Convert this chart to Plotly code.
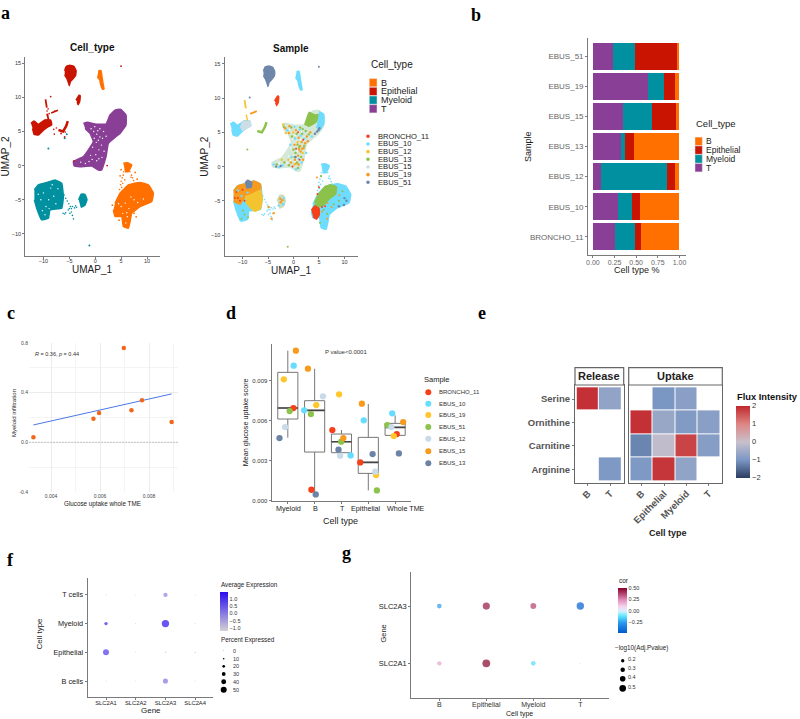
import plotly.graph_objects as go

W, H = 800, 719
FONT = "Liberation Sans"

# --- colours ---------------------------------------------------
CELL_COLORS = {"B": "#FF7000", "Epithelial": "#C81400", "Myeloid": "#00909F", "T": "#8A3F96"}
SAMPLE_COLORS = {"BRONCHO_11": "#F5401A", "EBUS_10": "#6EDCFF", "EBUS_12": "#F4C430", "EBUS_13": "#8CC24A",
                 "EBUS_15": "#CDDDE6", "EBUS_19": "#F79A1E", "EBUS_51": "#6F86AB"}

# --- a: UMAP cluster outlines ------------------------------------
t_main = [(-2.29, 6.18), (-1.52, 6.33), (-0.04, 6.08), (2.08, 6.08), (2.85, 7.4), (3.82, 8.13), (4.91, 8.23),
          (5.94, 7.4), (5.94, 5.94), (4.91, 4.82), (3.82, 4.13), (2.53, 3.26), (2.08, 1.31), (1.25, -0.64),
          (0.6, -0.64), (-0.68, -0.06), (-2.94, -0.16), (-4.09, -0.01), (-4.22, 0.57), (-2.29, 1.31),
          (-1.33, 2.28), (-0.36, 3.5), (-1.0, 4.72), (-1.97, 5.45)]
myeloid_main = [(-11.75, -3.57), (-10.98, -2.84), (-9.37, -2.49), (-7.76, -2.1), (-6.48, -2.59), (-6.15, -4.54),
                (-6.48, -6.25), (-8.73, -6.49), (-9.05, -7.71), (-10.34, -7.95), (-11.3, -6.25), (-11.75, -5.03)]
myeloid_small = [(-3.2, -5.0), (-2.7, -4.2), (-2.0, -4.2), (-1.6, -5.0), (-2.0, -5.8), (-2.8, -6.1)]
b_main = [(3.82, -5.52), (4.79, -4.05), (6.39, -2.84), (8.65, -2.49), (10.26, -2.84), (11.22, -4.05), (10.9, -5.27),
          (8.65, -6.0), (7.04, -6.98), (6.72, -8.2), (6.39, -9.17), (5.43, -8.93), (5.11, -7.46), (3.82, -7.46),
          (3.5, -6.49)]
b_top = [(5.43, 0.33), (6.2, 0.4), (7.04, 0.09), (6.39, -0.89), (5.75, -0.89)]
b_small = [(0.6, 13.9), (1.1, 13.9), (1.3, 13.0), (1.5, 12.0), (1.7, 11.2), (1.4, 11.2), (1.0, 12.0), (0.9, 12.5),
           (0.4, 13.0)]
epi_top = [(-5.9, 13.9), (-5.6, 14.5), (-4.9, 14.7), (-4.1, 14.5), (-3.7, 13.9), (-3.8, 13.2), (-4.3, 12.7),
           (-4.8, 12.3), (-5.0, 11.7), (-5.2, 12.2), (-5.5, 12.8), (-5.9, 13.3)]
epi_small = [(-3.7, 9.6), (-3.1, 10.3), (-2.9, 10.2), (-3.0, 9.4), (-3.3, 8.9), (-3.5, 9.3)]
epi_left = [(-12.4, 6.18), (-11.8, 6.52), (-11.0, 6.03), (-9.7, 6.67), (-8.6, 6.67), (-8.4, 5.94), (-9.05, 5.7),
            (-10.0, 5.2), (-11.0, 4.47), (-11.8, 4.57), (-12.1, 5.45)]

# thin strands
epi_strand1 = [(-9.6, 9.7), (-9.5, 9.0), (-9.35, 8.5)]
epi_strand2 = [(-8.5, 7.7), (-7.2, 8.1)]
epi_strand3 = [(-9.3, 7.6), (-9.0, 6.7)]
epi_crescent = [(-7.1, 5.2), (-6.2, 5.0), (-5.6, 5.8), (-5.3, 6.5)]
epi_trail = [(-9.2, 7.4), (-8.9, 7.6), (-9.3, 8.0), (-7.9, 4.6), (-8.0, 5.3), (-7.5, 5.5), (-9.1, 8.3), (-5.8, 4.9), (-7.8, 8.0)]
mye_trail = [(-6.0, -4.3), (-5.7, -4.8), (-5.4, -5.2), (-5.1, -5.6), (-4.8, -6.0), (-4.6, -6.3), (-5.2, -6.5), (-5.7, -6.9),
             (-6.2, -7.0), (-4.4, -6.0), (-4.0, -6.2), (-3.6, -6.1), (-4.6, -6.8), (-4.4, -7.3), (-4.2, -7.8), (-5.0, -6.3),
             (-4.9, -7.0), (-5.9, -7.1), (-3.8, -5.9)]
b_trail = [(5.5, -0.9), (5.4, -1.4), (5.2, -1.8), (5.0, -2.3), (4.9, -2.8), (5.3, -2.6), (5.7, -2.1), (5.1, -3.2), (6.7, -0.9),
           (7.0, -1.4), (7.2, -1.8), (7.4, -2.2), (7.6, -2.6), (6.9, -1.7), (5.8, -0.6), (6.4, -0.2), (4.7, -3.5)]

# loose cells
teal_dots = [(-9.05, 2.5), (-1.13, -11.7), (-5.5, 4.6), (-5.9, 4.0)]
red_dots = [(4.98, 14.56), (-8.6, 10.1), (-4.1, 0.7), (-6.6, 4.7), (-5.9, 4.2), (2.3, -0.0)]
orange_dots = [(5.0, -0.6), (4.8, -1.5), (7.7, -1.0), (8.1, -2.0), (4.6, -8.0), (7.5, -7.0), (7.9, -7.5), (3.3, -5.8)]

# white gaps inside the clusters
t_gaps = [(-0.8, 5.4), (-0.3, 5.0), (0.3, 4.6), (0.9, 4.2), (0.2, 3.4), (1.2, 3.0), (0.7, 2.3), (0.1, 1.6), (-0.9, 1.5),
          (1.3, 1.2), (0.3, 0.7), (-1.2, 0.6), (-1.9, 0.3), (0.9, 5.4), (1.6, 5.0), (2.1, 4.3), (-1.4, 4.6), (-0.5, 2.7),
          (-0.1, 5.7), (1.4, 4.0), (0.5, 5.1), (-0.2, 4.0), (0.6, 3.7), (1.7, 2.1), (-0.6, 0.9), (-2.8, 0.5), (0.7, 1.0)]
mye_gaps = [(-10.0, -4.0), (-9.0, -5.0), (-8.6, -3.3), (-8.0, -4.5), (-9.5, -6.0), (-10.5, -5.0), (-8.3, -2.8),
            (-7.2, -3.4), (-10.2, -6.6), (-9.7, -7.2), (-7.6, -5.6), (-11.0, -4.2), (-8.9, -6.3)]
b_gaps = [(5.0, -6.0), (5.8, -5.5), (6.5, -6.3), (5.3, -7.0), (6.2, -7.5), (7.5, -5.0), (4.5, -5.6), (6.9, -4.6),
          (8.2, -5.4), (5.9, -8.4), (9.3, -4.9), (6.1, -6.9)]

# --- a right: sample mix inside the same clusters --------------
t_green_wedge = [(2.22, 6.06), (3.07, 7.92), (4.18, 7.53), (5.03, 7.62), (4.5, 6.55), (2.87, 5.82)]
t_cyan_edge = [(5.03, 8.0), (5.94, 7.62), (5.94, 6.3), (5.1, 5.33), (4.5, 5.82)]
mye_orange = [(-11.75, -3.57), (-10.98, -2.84), (-9.37, -2.49), (-7.76, -2.1), (-6.48, -2.59), (-6.48, -3.4), (-9.5, -4.4),
              (-10.5, -5.5), (-11.75, -5.03)]
mye_yellow = [(-9.55, -4.43), (-7.91, -3.94), (-6.48, -3.45), (-6.15, -4.67), (-6.48, -6.14), (-7.59, -6.53),
              (-8.57, -5.89), (-9.35, -5.16)]
mye_slate = [(-9.5, -2.4), (-9.0, -2.0), (-8.2, -2.3), (-8.3, -3.0), (-9.3, -3.1)]
b_green = [(4.18, -5.16), (4.83, -4.19), (6.14, -2.97), (7.45, -2.62), (8.43, -2.97), (8.3, -3.94), (7.12, -4.67),
           (5.81, -5.65), (4.83, -5.89), (4.18, -5.65)]
b_red = [(3.52, -6.38), (4.18, -5.75), (5.03, -6.14), (5.03, -7.11), (4.5, -7.7), (3.85, -7.36)]
epi_left_pale = [(-10.2, 6.55), (-8.6, 6.67), (-8.4, 5.94), (-9.05, 5.7), (-10.0, 5.3), (-10.4, 5.9)]

s_t_orange = [(0.5, 5.3), (1.0, 4.2), (1.6, 3.6), (2.6, 4.4), (2.0, 2.7), (1.4, 2.2), (0.9, 1.6), (0.3, 1.0), (-0.9, 4.9),
              (-1.6, 5.6), (0.2, 3.2), (1.9, 1.0), (1.0, 0.3), (-0.5, 0.6), (3.3, 5.0), (1.3, 3.0), (2.3, 3.4), (1.7, 2.6),
              (2.8, 3.7), (1.1, 2.5), (-0.8, 5.9), (0.4, 0.4)]
s_t_green = [(-1.9, 5.8), (-0.4, 5.7), (0.6, 4.8), (1.7, 4.8), (0.0, 2.5), (0.4, 2.0), (1.5, 1.4), (0.7, 0.6), (-1.8, 0.6),
             (-3.3, 0.3), (2.4, 5.2), (-0.3, 4.4), (1.1, 2.8), (3.0, 4.7), (0.9, -0.2), (1.3, 5.7), (0.2, 1.4), (-0.9, 0.2),
             (2.1, 3.0), (1.8, 5.5), (0.8, 3.2)]
s_t_cyan = [(-1.2, 5.3), (0.2, 5.8), (1.2, 5.4), (2.1, 4.1), (-0.6, 3.2), (1.6, 0.6), (0.5, -0.4), (-2.8, -0.1), (-3.9, 0.3),
            (-0.4, 1.4), (2.5, 2.0), (1.4, 4.5), (3.6, 4.4), (-2.1, 0.2), (0.3, 4.1), (1.0, 1.1)]
s_t_yellow = [(-2.0, 6.1), (-1.5, 4.9), (-0.1, 5.0), (1.8, 2.0), (0.8, 3.6), (-1.0, 1.0), (0.2, 0.3), (-2.3, 1.0)]
s_t_red = [(1.9, 3.9), (0.9, 5.0), (0.5, 2.6), (1.2, 1.0), (-0.2, -0.0)]
s_t_slate = [(4.6, 5.1), (5.1, 5.6), (4.2, 4.8), (-3.4, -0.0), (-2.5, 0.1), (4.9, 5.3), (0.4, 1.4)]
s_mye_red = [(-11.2, -3.7), (-10.9, -4.6), (-10.0, -3.4), (-10.5, -5.0), (-11.5, -4.6), (-9.6, -5.0)]
s_mye_cyan = [(-10.9, -3.5), (-9.0, -3.8), (-10.2, -4.3), (-2.0, -5.5), (-2.9, -5.7), (-1.9, -4.6)]
s_mye_orange = [(-2.6, -4.7), (-2.2, -4.9), (-3.9, -6.8), (-4.3, -7.6), (-4.9, -5.9), (-2.5, -5.2)]
s_mye_green = [(-9.6, -7.0), (-9.9, -6.4), (-8.9, -7.4), (-10.2, -7.6)]
s_b_orange = [(9.0, -4.2), (7.5, -5.9), (6.7, -5.3), (5.6, -6.6), (6.6, -7.6), (4.6, -1.6)]
s_b_green = [(8.9, -5.0), (5.9, -6.3), (6.6, -6.9), (7.9, -5.5), (5.2, -8.2), (5.4, -1.4), (9.6, -3.6)]
s_b_red = [(5.0, -3.0), (4.7, -4.0), (5.6, -5.9), (6.2, -5.8)]
s_b_slate = [(10.4, -5.0), (9.9, -5.6), (10.0, -4.6), (8.9, -5.8)]

# --- b ---------------------------------------------------------
samples_b = ["BRONCHO_11", "EBUS_10", "EBUS_12", "EBUS_13", "EBUS_15", "EBUS_19", "EBUS_51"]
frac_t = [0.253, 0.294, 0.098, 0.325, 0.347, 0.638, 0.234]
frac_myeloid = [0.234, 0.163, 0.762, 0.045, 0.336, 0.188, 0.256]
frac_epithelial = [0.068, 0.083, 0.083, 0.105, 0.279, 0.125, 0.476]
frac_b = [0.445, 0.46, 0.057, 0.525, 0.038, 0.049, 0.034]

# --- c ---------------------------------------------------------
glucose_x = [0.00328, 0.00573, 0.00596, 0.00697, 0.00728, 0.00771, 0.00892]
myeloid_y = [0.04, 0.19, 0.237, 0.76, 0.259, 0.339, 0.164]
fit_x = [0.00328, 0.00892]
fit_y = [0.14, 0.39]

# --- d ---------------------------------------------------------
groups_d = ["Myeloid", "B", "T", "Epithelial", "Whole TME"]
box_low = [0.004725, 0.00055, 0.0034, 0.000775, 0.0049]
box_q1 = [0.006125, 0.00365, 0.0036, 0.00205, 0.0049]
box_med = [0.00695, 0.006775, 0.004425, 0.002875, 0.0055]
box_q3 = [0.009625, 0.0075, 0.005, 0.00475, 0.0058]
box_high = [0.01125, 0.0099, 0.0053, 0.00725, 0.0064]
samples_d = ["BRONCHO_11", "EBUS_10", "EBUS_19", "EBUS_51", "EBUS_12", "EBUS_15", "EBUS_13"]
colors_d = ["#F5401A", "#66DDFF", "#FFC72C", "#8CC34A", "#C9DAE8", "#F89A1E", "#6C82A6"]
jitter_d = [[0.21, -0.12, -0.34, -0.30, 0.06], [0.22, -0.39, 0.34, -0.17, -0.11], [-0.15, 0.06, -0.09, 0.29, -0.05],
            [0.07, -0.14, -0.01, 0.32, -0.29], [-0.10, 0.31, -0.05, 0.26, -0.14], [0.30, -0.25, 0.07, -0.24, 0.30],
            [-0.31, 0.04, -0.11, 0.16, 0.14]]
score_d = [[0.00695, 0.000825, 0.0053, 0.002875, 0.005], [0.010125, 0.006775, 0.0034, 0.006025, 0.00655],
           [0.0091, 0.007175, 0.007975, 0.001925, 0.00485], [0.006725, 0.0065, 0.004425, 0.000775, 0.005675],
           [0.005525, 0.007825, 0.003375, 0.002175, 0.005525], [0.01125, 0.0099, 0.0047, 0.007275, 0.0059],
           [0.0047, 0.000475, 0.003825, 0.0035, 0.00355]]

# --- e ---------------------------------------------------------
metabolites = ["Arginine", "Carnitine", "Ornithine", "Serine"]
release_cols = ["B", "T"]
release_z = [[None, -0.95], [None, None], [None, None], [1.9, -0.7]]
uptake_cols = ["B", "Epithelial", "Myeloid", "T"]
uptake_z = [[-0.95, 1.85, -0.7, None], [-1.2, -0.1, 1.7, -0.85], [1.9, -0.6, -0.9, -0.8], [None, -1.0, -0.8, None]]
flux_scale = [[0, "#2B3D60"], [0.25, "#7A97C4"], [0.5, "#C8C0CC"], [0.75, "#DE8583"], [1, "#C0282D"]]

# --- f ---------------------------------------------------------
genes_f = ["SLC2A1", "SLC2A2", "SLC2A3", "SLC2A4"]
cells_f = ["B cells", "Epithelial", "Myeloid", "T cells"]
pct_f = [[3, 2, 33, 2], [40, 2, 6, 4], [20, 2, 50, 2], [3, 2, 27, 2]]
exp_f = [[-1.1, -1.1, 0.1, -1.1], [0.9, -1.1, -1.0, -0.4], [1.2, -1.0, 1.5, -1.1], [-1.1, -1.1, -0.1, -1.1]]
pct_legend = [0, 10, 20, 30, 40, 50]

# --- g ---------------------------------------------------------
cells_g = ["B", "Epithelial", "Myeloid", "T"]
genes_g = ["SLC2A1", "SLC2A3"]
cor_g = [[0.2, 0.5, -0.13, 0.0], [-0.25, 0.46, 0.38, -0.45]]
logp_g = [[0.24, 0.55, 0.27, 0.01], [0.27, 0.5, 0.38, 0.52]]
logp_legend = [0.2, 0.3, 0.4, 0.5]
cor_scale = [[0, "#0058CC"], [0.227, "#2A9AEE"], [0.38, "#60E8FF"], [0.485, "#D8F0FF"], [0.588, "#F4D4EC"],
             [0.742, "#E08AB8"], [0.876, "#B0406C"], [1, "#880028"]]


fig = go.Figure()
annotations = []
shapes = []


def note(text, px, py, size=8, color="#1a1a1a", xanchor="left", angle=0, bold=False, family=FONT):
    if bold:
        text = "<b>" + text + "</b>"
    annotations.append(dict(text=text, x=px / W, y=1 - py / H, xref="paper", yref="paper", showarrow=False,
                            xanchor=xanchor, yanchor="middle", textangle=angle, borderpad=0,
                            font=dict(size=size, color=color, family=family)))


def swatch(px0, py0, px1, py1, color, kind="rect", edge=None):
    shapes.append(dict(type=kind, xref="paper", yref="paper", x0=px0 / W, x1=px1 / W, y0=1 - py0 / H, y1=1 - py1 / H,
                       fillcolor=color, line=dict(color=edge or color, width=0.5 if edge else 0)))


def axes(n, px0, px1, py0, py1, xr, yr, xopts=None, yopts=None):
    base = dict(showline=True, linecolor="#7a7a7a", linewidth=1.3, ticks="outside", ticklen=2, tickwidth=0.7,
                tickcolor="#7a7a7a", zeroline=False, showgrid=False, fixedrange=True)
    xa = dict(base, domain=[px0 / W, px1 / W], range=xr, anchor="y%d" % n, tickangle=0, ticklabelstandoff=-2,
              tickfont=dict(size=6, color="#333333"))
    ya = dict(base, domain=[1 - py1 / H, 1 - py0 / H], range=yr, anchor="x%d" % n, tickfont=dict(size=6, color="#333333"))
    xa.update(xopts or {})
    ya.update(yopts or {})
    fig.layout["xaxis%d" % n] = xa
    fig.layout["yaxis%d" % n] = ya


def blob(n, poly, color, width=1.5):
    fig.add_trace(go.Scatter(x=[p[0] for p in poly], y=[p[1] for p in poly], mode="lines", fill="toself",
                             fillcolor=color, line=dict(color=color, width=width, shape="spline", smoothing=0.3),
                             xaxis="x%d" % n, yaxis="y%d" % n, hoverinfo="skip", showlegend=False))


def strand(n, pts, color, width=1.5):
    fig.add_trace(go.Scatter(x=[p[0] for p in pts], y=[p[1] for p in pts], mode="lines",
                             line=dict(color=color, width=width), xaxis="x%d" % n, yaxis="y%d" % n,
                             hoverinfo="skip", showlegend=False))


def dots(n, pts, color, size=2.5):
    fig.add_trace(go.Scatter(x=[p[0] for p in pts], y=[p[1] for p in pts], mode="markers",
                             marker=dict(color=color, size=size, line=dict(width=0)), xaxis="x%d" % n,
                             yaxis="y%d" % n, hoverinfo="skip", showlegend=False))


# --- panel a, left --------------------------------------------
umap_ticks_x = dict(tickvals=[-10, -5, 0, 5, 10], tickfont=dict(size=5.5, color="#333333"))
umap_ticks_y = dict(tickvals=[-10, -5, 0, 5, 10, 15], tickfont=dict(size=5.5, color="#333333"))
axes(1, 25.3, 160, 57, 255.7, [-13.5, 12.5], [-13.2, 15.9], umap_ticks_x, umap_ticks_y)
axes(2, 224.7, 357.7, 57, 256.3, [-13.5, 12.6], [-13.1, 16.0], umap_ticks_x, umap_ticks_y)

for poly in [epi_top, epi_small, epi_left]:
    blob(1, poly, CELL_COLORS["Epithelial"])
for pts in [epi_strand1, epi_strand2, epi_strand3]:
    strand(1, pts, CELL_COLORS["Epithelial"], 1.8)
strand(1, epi_crescent, CELL_COLORS["Epithelial"], 2.5)
dots(1, epi_trail, CELL_COLORS["Epithelial"], 1.6)
blob(1, t_main, CELL_COLORS["T"])
for poly in [myeloid_main, myeloid_small]:
    blob(1, poly, CELL_COLORS["Myeloid"])
dots(1, mye_trail, CELL_COLORS["Myeloid"], 1.6)
for poly in [b_main, b_top, b_small]:
    blob(1, poly, CELL_COLORS["B"])
dots(1, b_trail, CELL_COLORS["B"], 1.6)
dots(1, t_gaps + mye_gaps + b_gaps, "#ffffff", 1.4)
dots(1, teal_dots, CELL_COLORS["Myeloid"], 2)
dots(1, red_dots, CELL_COLORS["Epithelial"], 1.8)
dots(1, orange_dots, CELL_COLORS["B"], 1.8)

# --- panel a, right -------------------------------------------
blob(2, epi_top, SAMPLE_COLORS["EBUS_51"])
blob(2, epi_small, SAMPLE_COLORS["BRONCHO_11"])
blob(2, epi_left, SAMPLE_COLORS["EBUS_10"])
blob(2, epi_left_pale, SAMPLE_COLORS["EBUS_15"])
strand(2, epi_strand1, SAMPLE_COLORS["EBUS_12"], 1.8)
strand(2, epi_strand3, SAMPLE_COLORS["EBUS_12"], 1.4)
strand(2, epi_strand2, SAMPLE_COLORS["EBUS_19"], 1.8)
strand(2, epi_crescent, SAMPLE_COLORS["EBUS_13"], 2.5)
blob(2, t_main, "#D4E8D8")
blob(2, t_green_wedge, SAMPLE_COLORS["EBUS_13"])
blob(2, t_cyan_edge, SAMPLE_COLORS["EBUS_10"])
blob(2, myeloid_main, SAMPLE_COLORS["EBUS_10"])
blob(2, mye_orange, SAMPLE_COLORS["EBUS_19"])
blob(2, mye_yellow, SAMPLE_COLORS["EBUS_12"])
blob(2, mye_slate, SAMPLE_COLORS["EBUS_51"])
blob(2, myeloid_small, "#C9DCC0")
dots(2, mye_trail, SAMPLE_COLORS["EBUS_10"], 1.6)
blob(2, b_main, SAMPLE_COLORS["EBUS_10"])
blob(2, b_green, SAMPLE_COLORS["EBUS_13"])
blob(2, b_red, SAMPLE_COLORS["BRONCHO_11"])
blob(2, b_top, SAMPLE_COLORS["EBUS_10"])
blob(2, b_small, SAMPLE_COLORS["EBUS_10"])
dots(2, b_trail, SAMPLE_COLORS["EBUS_10"], 1.6)
dots(2, t_gaps, "#ffffff", 1.6)
dots(2, s_t_orange, SAMPLE_COLORS["EBUS_19"], 2.4)
dots(2, s_t_green, SAMPLE_COLORS["EBUS_13"], 2.4)
dots(2, s_t_cyan, SAMPLE_COLORS["EBUS_10"], 2.4)
dots(2, s_t_yellow, SAMPLE_COLORS["EBUS_12"], 2.4)
dots(2, s_t_red, SAMPLE_COLORS["BRONCHO_11"], 2)
dots(2, s_t_slate, SAMPLE_COLORS["EBUS_51"], 2.4)
dots(2, s_mye_red, SAMPLE_COLORS["BRONCHO_11"], 2)
dots(2, s_mye_cyan, SAMPLE_COLORS["EBUS_10"], 2.4)
dots(2, s_mye_orange, SAMPLE_COLORS["EBUS_19"], 2.4)
dots(2, s_mye_green, SAMPLE_COLORS["EBUS_13"], 2)
dots(2, s_b_orange, SAMPLE_COLORS["EBUS_19"], 2)
dots(2, s_b_green, SAMPLE_COLORS["EBUS_13"], 2.2)
dots(2, s_b_red, SAMPLE_COLORS["BRONCHO_11"], 2)
dots(2, s_b_slate, SAMPLE_COLORS["EBUS_51"], 2.4)
dots(2, [(-9.05, 2.5), (-1.13, -11.7)], SAMPLE_COLORS["EBUS_13"], 2)
dots(2, [(4.98, 14.56), (-8.6, 10.1)], SAMPLE_COLORS["EBUS_51"], 2)

note("Cell_type", 92.7, 47.7, 10, "#111111", "center", bold=True)
note("Sample", 291, 48.7, 10, "#111111", "center", bold=True)
note("UMAP_1", 92.3, 269.3, 10, "#222222", "center")
note("UMAP_1", 291, 270, 10, "#222222", "center")
note("UMAP_2", 5.7, 156.7, 10, "#222222", "center", -90)
note("UMAP_2", 205, 156.7, 10, "#222222", "center", -90)

note("Cell_type", 370, 64.7, 10, "#222222")
for i, name in enumerate(CELL_COLORS):
    cy = 82.7 + 8.7 * i
    swatch(369.3, cy - 4.1, 377, cy + 4.1, CELL_COLORS[name], edge="#e4e4e4")
    note(name, 379.5, cy, 9, "#222222")
for i, name in enumerate(SAMPLE_COLORS):
    cy = 136.3 + 7.67 * i
    swatch(366.2, cy - 1.8, 369.8, cy + 1.8, SAMPLE_COLORS[name], "circle")
    note(name, 376.7, cy, 7.6, "#222222")

# --- panel b --------------------------------------------------
idx_b = list(range(len(samples_b)))
axes(3, 588.3, 685.7, 38, 255, [-0.053, 1.072], [-0.6, 6.6],
     dict(tickvals=[0, 0.25, 0.5, 0.75, 1], ticktext=["0.00", "0.25", "0.50", "0.75", "1.00"],
          tickfont=dict(size=7, color="#666666")),
     dict(tickvals=idx_b, ticktext=samples_b, tickfont=dict(size=8, color="#666666")))
for frac, name in [(frac_t, "T"), (frac_myeloid, "Myeloid"), (frac_epithelial, "Epithelial"), (frac_b, "B")]:
    fig.add_trace(go.Bar(x=frac, y=idx_b, orientation="h", width=0.9, marker=dict(color=CELL_COLORS[name], line=dict(width=0)),
                         xaxis="x3", yaxis="y3", showlegend=False))
note("Sample", 527.3, 146.7, 9, "#222222", "center", -90)
note("Cell type %", 637.3, 270, 9, "#222222", "center")
note("Cell_type", 695.3, 123, 9.5, "#222222")
for i, name in enumerate(CELL_COLORS):
    cy = 141.3 + 8.8 * i
    swatch(695, cy - 4.2, 702.3, cy + 4.2, CELL_COLORS[name], edge="#e4e4e4")
    note(name, 705.3, cy, 8.5, "#222222")

# --- panel c --------------------------------------------------
axes(4, 29, 178, 343, 492, [0.0031, 0.00918], [-0.4, 0.8],
     dict(showline=False, ticks="", tickvals=[0.004, 0.006, 0.008], ticktext=["0.004", "0.006", "0.008"], showgrid=True,
          gridcolor="#ececec", gridwidth=0.6, tickfont=dict(size=5, color="#444444"), ticklabelstandoff=0,
          minor=dict(tickvals=[0.003, 0.005, 0.007, 0.009], showgrid=True, gridcolor="#f4f4f4", gridwidth=0.5)),
     dict(showline=False, ticks="", tickvals=[-0.4, 0, 0.4, 0.8], ticktext=["-0.4", "0.0", "0.4", "0.8"], showgrid=True,
          gridcolor="#ececec", gridwidth=0.6, tickfont=dict(size=5, color="#444444"),
          minor=dict(tickvals=[-0.2, 0.2, 0.6], showgrid=True, gridcolor="#f4f4f4", gridwidth=0.5)))
fig.add_trace(go.Scatter(x=[0.0031, 0.00918], y=[0, 0], mode="lines", line=dict(color="#cccccc", width=1.3, dash="2px,1px"),
                         xaxis="x4", yaxis="y4", showlegend=False))
fig.add_trace(go.Scatter(x=fit_x, y=fit_y, mode="lines", line=dict(color="#4A78E6", width=1), xaxis="x4", yaxis="y4",
                         showlegend=False))
fig.add_trace(go.Scatter(x=glucose_x, y=myeloid_y, mode="markers", marker=dict(color="#F2661A", size=4.5), xaxis="x4",
                         yaxis="y4", showlegend=False))
note("<i>R</i> = 0.36, <i>p</i> = 0.44", 34, 354.3, 5.5, "#333333")
note("Myeloid infiltration", 13.3, 412.7, 6, "#222222", "center", -90)
note("Glucose uptake whole TME", 102.7, 504.3, 6.3, "#222222", "center")

# --- panel d --------------------------------------------------
idx_d = list(range(len(groups_d)))
axes(5, 271.7, 410.7, 344, 501, [-0.6, 4.58], [-0.00002, 0.01175],
     dict(tickvals=idx_d, showticklabels=False),
     dict(tickvals=[0, 0.003, 0.006, 0.009], ticktext=["0.000", "0.003", "0.006", "0.009"],
          tickfont=dict(size=6, color="#333333")))
fig.add_trace(go.Box(x=idx_d, q1=box_q1, median=box_med, q3=box_q3, lowerfence=box_low, upperfence=box_high, width=0.75,
                     whiskerwidth=0, line=dict(color="#777777", width=1), fillcolor="rgba(0,0,0,0)", boxpoints=False,
                     xaxis="x5", yaxis="y5", showlegend=False, hoverinfo="skip"))
med_x, med_y = [], []
for i, m in zip(idx_d, box_med):
    med_x += [i - 0.375, i + 0.375, None]
    med_y += [m, m, None]
fig.add_trace(go.Scatter(x=med_x, y=med_y, mode="lines", line=dict(color="#444444", width=1.6), xaxis="x5", yaxis="y5",
                         showlegend=False))
for name, color, jit, score in zip(samples_d, colors_d, jitter_d, score_d):
    fig.add_trace(go.Scatter(x=[i + j for i, j in zip(idx_d, jit)], y=score, mode="markers", name=name,
                             marker=dict(color=color, size=6.3, line=dict(width=0)), xaxis="x5", yaxis="y5",
                             showlegend=False))
# the labels under the boxes sit by hand in the reference, the last ones are pushed apart
for label, px in zip(groups_d, [288, 315, 342.3, 365.7, 406]):
    note(label, px, 508, 7.2, "#222222", "center")
note("P value<0.0001", 324.3, 351.7, 6, "#333333")
note("Mean glucose uptake score", 245, 422.3, 7.2, "#222222", "center", -90)
note("Cell type", 340, 521, 9, "#222222", "center")
note("Sample", 422.7, 379.3, 7.5, "#222222")
for cy, name, color in zip([392.3, 403.7, 415, 427, 438.7, 451.3, 463.3], samples_d, colors_d):
    swatch(425.3, cy - 3, 431.3, cy + 3, color, "circle")
    note(name, 438, cy, 6, "#333333")

# --- panel e --------------------------------------------------
heat_font = dict(size=9.5, color="#555555", family=FONT)
heat_y = dict(tickvals=[0, 1, 2, 3], ticktext=["<b>%s</b>" % m for m in metabolites], tickfont=heat_font)
frame = dict(mirror=True, linecolor="#666666", linewidth=1.2)
axes(6, 575, 623.7, 385, 483.3, [-0.58, 1.6], [-0.6, 3.6],
     dict(frame, tickvals=[0, 1], ticktext=["<b>%s</b>" % c for c in release_cols], tickangle=-45, tickfont=heat_font),
     dict(frame, **heat_y))
axes(7, 628.7, 722.3, 385, 483.3, [-0.58, 3.6], [-0.6, 3.6],
     dict(frame, tickvals=[0, 1, 2, 3], ticktext=["<b>%s</b>" % c for c in uptake_cols], tickangle=-45, tickfont=heat_font),
     dict(frame, showticklabels=False, ticks=""))
fig.add_trace(go.Heatmap(z=release_z, x=[0, 1], y=[0, 1, 2, 3], coloraxis="coloraxis", xgap=1, ygap=1, xaxis="x6", yaxis="y6",
                         hoverinfo="skip"))
fig.add_trace(go.Heatmap(z=uptake_z, x=[0, 1, 2, 3], y=[0, 1, 2, 3], coloraxis="coloraxis", xgap=1, ygap=1, xaxis="x7",
                         yaxis="y7", hoverinfo="skip"))
for x0, x1, label in [(575, 623.7, "Release"), (628.7, 722.3, "Uptake")]:
    swatch(x0, 367.7, x1, 385, "#ffffff", edge="#666666")
    shapes[-1]["line"]["width"] = 1.2
    note(label, (x0 + x1) / 2, 376.5, 11, "#222222", "center", bold=True)
note("Flux Intensity", 736.3, 396.7, 9.3, "#111111", bold=True)
note("Cell type", 668, 533, 9, "#222222", "center", bold=True)

# --- panel f --------------------------------------------------
axes(8, 87.7, 212.7, 577.7, 697.3, [-0.616, 3.59], [-0.568, 3.6],
     dict(tickvals=[0, 1, 2, 3], ticktext=genes_f, tickfont=dict(size=5.8, color="#222222")),
     dict(tickvals=[0, 1, 2, 3], ticktext=cells_f, tickfont=dict(size=7.3, color="#222222")))
fx, fy, fpct, fexp = [], [], [], []
for r, row in enumerate(pct_f):
    for c, val in enumerate(row):
        fx.append(c)
        fy.append(r)
        fpct.append(val)
        fexp.append(exp_f[r][c])
fig.add_trace(go.Scatter(x=fx, y=fy, mode="markers", xaxis="x8", yaxis="y8", showlegend=False,
                         marker=dict(size=[0.8 + 0.13 * p for p in fpct], color=fexp, coloraxis="coloraxis2", line=dict(width=0))))
note("Cell type", 39.3, 633.3, 8, "#222222", "center", -90)
note("Gene", 150.7, 710, 8, "#222222", "center")
note("Average Expression", 220, 585, 6.3, "#222222")
note("Percent Expressed", 220, 640.3, 6.3, "#222222")
for cy, p in zip([650.7, 658.7, 666.3, 674, 681.7, 689.7], pct_legend):
    d = 0.5 + 0.11 * p
    swatch(223.7 - d / 2, cy - d / 2, 223.7 + d / 2, cy + d / 2, "#000000", "circle")
    note(str(p), 231.7, cy, 5.5, "#333333")

# --- panel g --------------------------------------------------
axes(9, 411.3, 608.7, 571.7, 697.7, [-0.596, 3.604], [-0.6, 1.6],
     dict(tickvals=[0, 1, 2, 3], ticktext=cells_g, tickfont=dict(size=7, color="#333333")),
     dict(tickvals=[0, 1], ticktext=genes_g, tickfont=dict(size=7.5, color="#222222")))
gx, gy, gcor, glog = [], [], [], []
for r, row in enumerate(cor_g):
    for c, val in enumerate(row):
        gx.append(c)
        gy.append(r)
        gcor.append(val)
        glog.append(logp_g[r][c])
fig.add_trace(go.Scatter(x=gx, y=gy, mode="markers", xaxis="x9", yaxis="y9", showlegend=False,
                         marker=dict(size=[1.7 + 11 * v for v in glog], color=gcor, coloraxis="coloraxis3", line=dict(width=0))))
note("Gene", 383.3, 633.3, 7.5, "#222222", "center", -90)
note("Cell type", 519, 714, 7, "#222222", "center")
note("cor", 618, 580.3, 6.5, "#222222")
note("−log10(Adj.Pvalue)", 614, 648, 6.3, "#222222")
for cy, v in zip([660.7, 669.7, 678.7, 688.3], logp_legend):
    d = 1.2 + 11 * v
    swatch(622.7 - d / 2, cy - d / 2, 622.7 + d / 2, cy + d / 2, "#000000", "circle")
    note(str(v), 626.7, cy - 1.3, 5.5, "#333333")


def bar(x, top, bottom, thick, tickvals, ticktext, size):
    return dict(x=x / W, xanchor="left", y=1 - bottom / H, yanchor="bottom", lenmode="pixels", len=bottom - top,
                thicknessmode="pixels", thickness=thick, xpad=0, ypad=0, outlinewidth=0, ticks="", tickvals=tickvals,
                ticktext=ticktext, tickfont=dict(size=size, color="#333333", family=FONT))


# panel letters
for letter, px, py in [("a", 5, 13), ("b", 476, 15), ("c", 11, 313), ("d", 231, 313), ("e", 482, 313), ("f", 10, 560),
                       ("g", 346, 553)]:
    note(letter, px, py, 18, "#000000", "center", bold=True, family="Liberation Serif")

fig.update_layout(
    width=W, height=H, margin=dict(l=0, r=0, t=0, b=0, autoexpand=False), paper_bgcolor="white", plot_bgcolor="white",
    barmode="stack", showlegend=False, font=dict(family=FONT), annotations=annotations, shapes=shapes,
    coloraxis=dict(colorscale=flux_scale, cmin=-2, cmax=2,
                   colorbar=bar(736.3, 406, 477.7, 14, [-2, -1, 0, 1, 2], ["−2", "−1", "0", "1", "2"], 7.5)),
    coloraxis2=dict(colorscale=[[0, "#D3D3D3"], [1, "#2A0CF0"]], cmin=-1.2, cmax=1.5,
                    colorbar=bar(220, 592, 630.7, 7.7, [-1, -0.5, 0, 0.5, 1], ["−1.0", "−0.5", "0.0", "0.5", "1.0"], 5.5)),
    coloraxis3=dict(colorscale=cor_scale, cmin=-0.47, cmax=0.5,
                    colorbar=bar(618, 587.7, 632.7, 9, [-0.25, 0, 0.25, 0.5], ["−0.25", "0.00", "0.25", "0.50"], 5.5)),
)

fig.write_html("out.html", post_script="document.body.style.margin='0';", config={"displayModeBar": False})
